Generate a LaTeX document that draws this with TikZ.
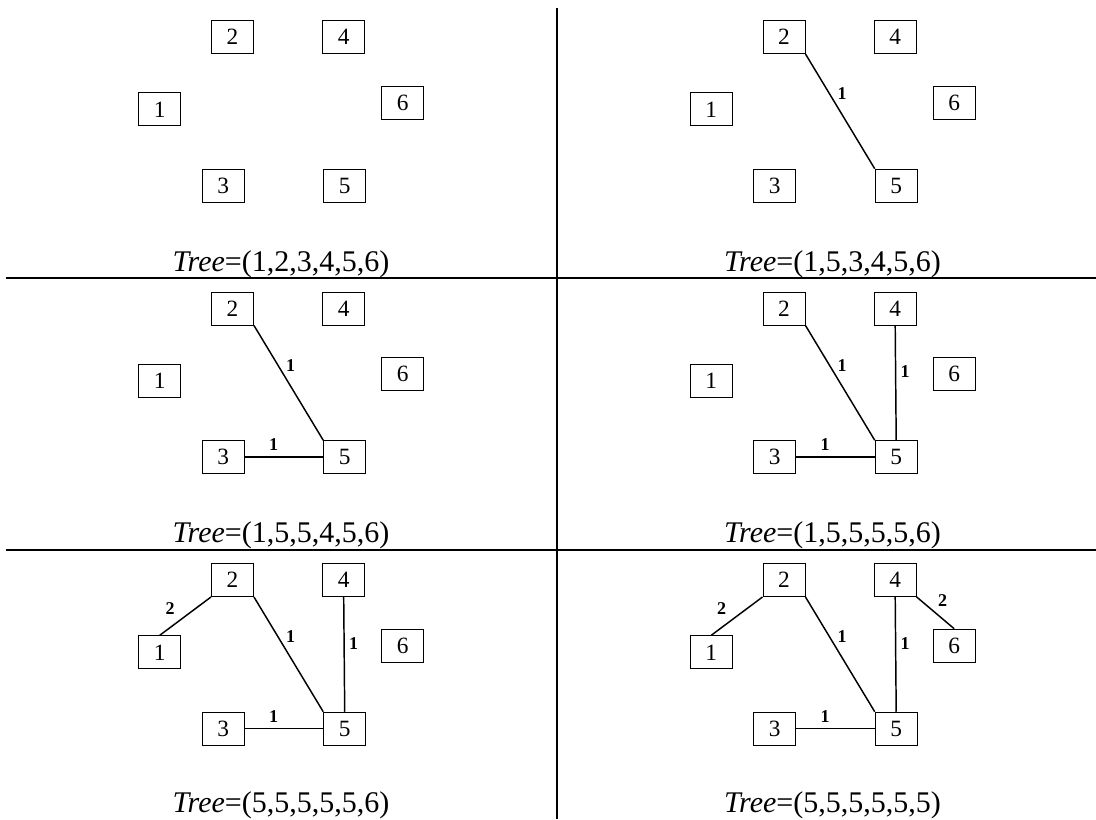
\documentclass[tikz,border=0pt]{standalone}
\usepackage{fontspec}
\setmainfont{Liberation Serif}
\newcommand\sixboxes{%
  \node[numbox] (n1) at (159.7,109.3) {1};
  \node[numbox] (n2) at (232.5,37) {2};
  \node[numbox] (n3) at (223.3,185.7) {3};
  \node[numbox] (n4) at (343.7,37) {4};
  \node[numbox] (n5) at (344.7,185.7) {5};
  \node[numbox] (n6) at (402.7,102.7) {6};
}
\newcommand\edgeTwoFive{%
  \draw[treeline] (n2.south east) -- (n5.north west);
  \node[elab] (l25) at (290.5,94) {1};
}
\newcommand\edgeThreeFive{%
  \draw[treeline] (n3.east) -- (n5.west);
  \node[elab] (l35) at (273.5,173.5) {1};
}
\newcommand\edgeFourFive{%
  \draw[treeline] (n4.south) -- (n5.north);
  \node[elab] (l45) at (353.5,100.3) {1};
}
\newcommand\edgeOneTwo{%
  \draw[treeline] (n2.south west) -- (n1.north);
  \node[elab] (l12) at (170.2,65.3) {2};
}
\newcommand\edgeFourSix{%
  \draw[treeline] (n4.south east) -- (n6.north);
  \node[elab] (l46) at (391.2,57.7) {2};
}
\begin{document}
\begin{tikzpicture}[x=0.75pt,y=-0.75pt,
  numbox/.style={draw, line width=0.7pt, minimum width=31.5pt, minimum height=24.75pt, inner sep=0pt, font=\fontsize{17.5}{17.5}\selectfont},
  treeline/.style={line width=1.1pt},
  elab/.style={font=\fontsize{13.5}{13.5}\selectfont\bfseries, inner sep=0pt},
  captext/.style={font=\fontsize{22.5}{22.5}\selectfont, anchor=base, inner sep=0pt},
  divider/.style={line width=1.5pt}]
\useasboundingbox (0,0) rectangle (1096,819);
% dividers
\coordinate (v0) at (556.7,8);
\coordinate (v1) at (556.7,819);
\coordinate (h0) at (6,277.5);
\coordinate (h1) at (1096,277.5);
\coordinate (k0) at (6,549.7);
\coordinate (k1) at (1096,549.7);
\draw[divider] (v0) -- (v1);
\draw[divider] (h0) -- (h1);
\draw[divider] (k0) -- (k1);
% panel 1
\begin{scope}[name prefix=pa-]
  \sixboxes
  \node[captext] (cap) at (281,271) {\textit{Tree}=(1,2,3,4,5,6)};
\end{scope}
% panel 2
\begin{scope}[shift={(551.5,0)}, name prefix=pb-]
  \sixboxes
  \edgeTwoFive
  \node[captext] (cap) at (281,271) {\textit{Tree}=(1,5,3,4,5,6)};
\end{scope}
% panel 3
\begin{scope}[shift={(0,271.5)}, name prefix=pc-]
  \sixboxes
  \edgeTwoFive
  \edgeThreeFive
  \node[captext] (cap) at (281,270.5) {\textit{Tree}=(1,5,5,4,5,6)};
\end{scope}
% panel 4
\begin{scope}[shift={(551.5,271.5)}, name prefix=pd-]
  \sixboxes
  \edgeTwoFive
  \edgeThreeFive
  \edgeFourFive
  \node[captext] (cap) at (281,270.5) {\textit{Tree}=(1,5,5,5,5,6)};
\end{scope}
% panel 5
\begin{scope}[shift={(0,543)}, name prefix=pe-]
  \sixboxes
  \edgeTwoFive
  \edgeThreeFive
  \edgeFourFive
  \edgeOneTwo
  \node[captext] (cap) at (281,269.5) {\textit{Tree}=(5,5,5,5,5,6)};
\end{scope}
% panel 6
\begin{scope}[shift={(551.5,543)}, name prefix=pf-]
  \sixboxes
  \edgeTwoFive
  \edgeThreeFive
  \edgeFourFive
  \edgeOneTwo
  \edgeFourSix
  \node[captext] (cap) at (281,269.5) {\textit{Tree}=(5,5,5,5,5,5)};
\end{scope}
\end{tikzpicture}
\end{document}
